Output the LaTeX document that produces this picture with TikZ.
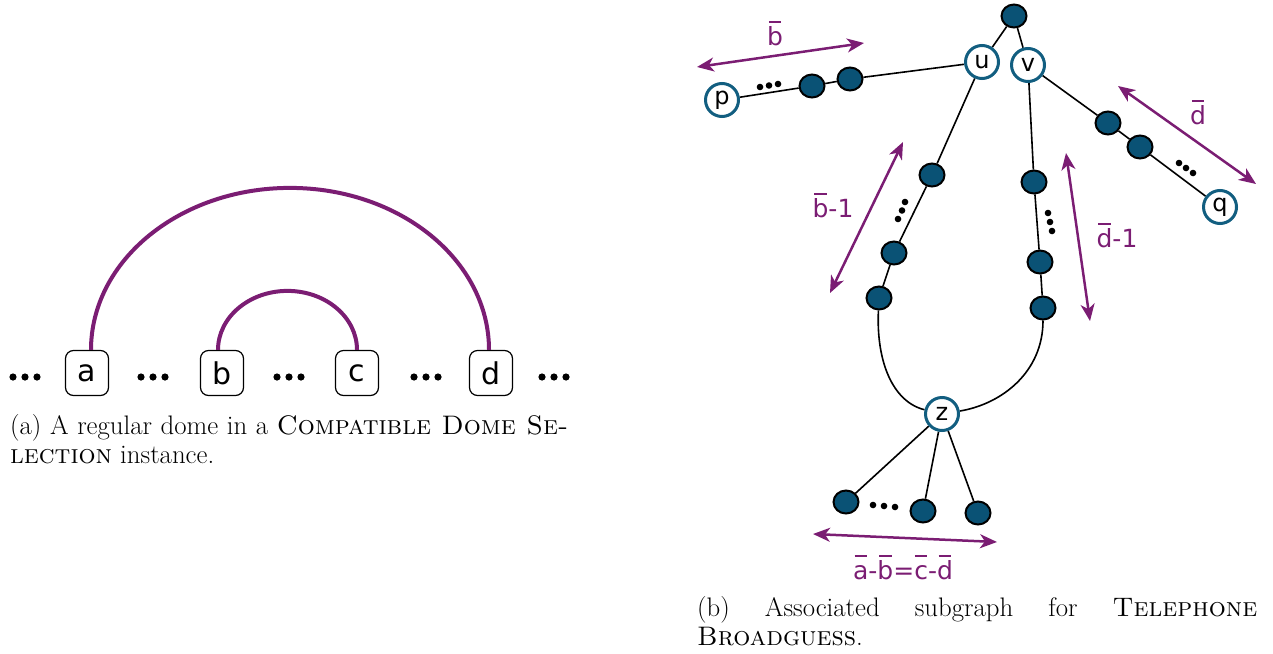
\documentclass[tikz,border=0pt]{standalone}
\usepackage{fontspec}
\newfontfamily\dv{DejaVu Sans}
\usetikzlibrary{arrows.meta,shapes.geometric,calc,backgrounds}
\definecolor{dome}{RGB}{123,29,115}
\definecolor{nfill}{RGB}{10,82,117}
\definecolor{nring}{RGB}{18,94,128}
\newcommand\ob[1]{\leavevmode\setbox0\hbox{#1}\rlap{\hbox to\wd0{\hss\rule[0.9em]{0.5em}{0.08em}\hss}}\box0}
\begin{document}
\begin{tikzpicture}[x=1pt,y=-1pt,
  box/.style={draw, rounded corners=8pt, line width=1.2pt, minimum width=43pt, minimum height=45pt, inner sep=0pt, font=\dv\fontsize{30}{30}\selectfont},
  domeline/.style={draw=dome, line width=4pt},
  full/.style={ellipse, draw, line width=2pt, fill=nfill, minimum width=25pt, minimum height=23pt, inner sep=0pt},
  open/.style={circle, draw=nring, line width=3pt, fill=white, minimum size=33pt, inner sep=0pt, font=\dv\fontsize{24}{24}\selectfont},
  edge/.style={draw, line width=1.6pt},
  span/.style={draw=dome, line width=2.5pt, {Stealth[length=17pt,width=14pt,inset=5pt]}-{Stealth[length=17pt,width=14pt,inset=5pt]}},
  lab/.style={text=dome, font=\dv\fontsize{25}{25}\selectfont, inner sep=0pt},
  captext/.style={anchor=base west, inner sep=0pt, font=\fontsize{26.8}{29.5}\selectfont}
]
\useasboundingbox (0,0) rectangle (1273,653);

% ---------- left: dome ----------
\node[box] (a) at (87,373) {a};
\node[box] (b) at (222,373) {b};
\node[box] (c) at (357,373) {c};
\node[box] (d) at (491,373) {d};
\foreach \x in {13,25,37, 141,153,165, 277,289,301, 414,426,438, 542,554,566}
  \fill (\x,377) circle (3.6);
\draw[domeline] ($(a.north)+(4,0)$) arc[start angle=180, end angle=360, x radius=199, y radius=162];
\draw[domeline] ($(b.north)+(-4,0)$) arc[start angle=180, end angle=360, x radius=69.5, y radius=59];

\node[captext] (capA) at (10,434) {\parbox[t]{558pt}{(a) A regular dome in a \textsc{Compatible Dome Se-}\linebreak\textsc{lection} instance.}};

% ---------- right: graph ----------
\node[full] (top) at (1014,16) {};
\node[open] (u) at (982,62) {u};
\node[open] (v) at (1028,65) {v};
\node[open] (p) at (722,100) {p};
\node[full] (b1) at (812,86) {};
\node[full] (b2) at (850,79) {};
\node[full] (l1) at (932,175) {};
\node[full] (l2) at (894,253) {};
\node[full] (l3) at (879,298) {};
\node[full] (r1) at (1034,182) {};
\node[full] (r2) at (1040,262) {};
\node[full] (r3) at (1043,308) {};
\node[full] (d1) at (1108,123) {};
\node[full] (d2) at (1140,147) {};
\node[open] (q) at (1220,207) {q};
\node[open] (z) at (942,414) {z};
\node[full] (c1) at (846,502) {};
\node[full] (c2) at (923,511) {};
\node[full] (c3) at (978,513) {};

\begin{scope}[on background layer]
\path[edge] (top) -- (u) (top) -- (v)
  (p) -- (b1) (b1) -- (b2) (b2) -- (u)
  (u) -- (l1) (l1) -- (l2) (l2) -- (l3)
  (v) -- (r1) (r1) -- (r2) (r2) -- (r3)
  (v) -- (d1) (d1) -- (d2) (d2) -- (q)
  (z) -- (c1) (z) -- (c2) (z) -- (c3);
\draw[edge] (l3) .. controls (876,362) and (893,402) .. (z);
\draw[edge] (r3) .. controls (1043,372) and (1002,404) .. (z);
\end{scope}

\foreach \p in {(760,87),(769,85.5),(778,84), (905,202),(902,210.5),(898,219), (1048,213),(1050,222),(1052,231), (1179,163),(1186,168),(1193,173), (873,505),(884,506),(895,507)}
  \fill \p circle (3.3);

% spans
\coordinate (sb1) at (697,67);  \coordinate (sb2) at (864,43);
\coordinate (sd1) at (1118,86); \coordinate (sd2) at (1256,184);
\coordinate (sl1) at (903,142); \coordinate (sl2) at (830,293);
\coordinate (sr1) at (1066,153); \coordinate (sr2) at (1090,321);
\coordinate (sz1) at (813,534); \coordinate (sz2) at (997,542);
\draw[span] (sb1) -- (sb2);
\draw[span] (sd1) -- (sd2);
\draw[span] (sl1) -- (sl2);
\draw[span] (sr1) -- (sr2);
\draw[span] (sz1) -- (sz2);
\node[lab] (Lb) at (775,33) {\ob{b}};
\node[lab] (Ld) at (1198,112) {\ob{d}};
\node[lab] (Lb1) at (833,205) {\ob{b}-1};
\node[lab] (Ld1) at (1117,235) {\ob{d}-1};
\node[lab] (Lz) at (903,567) {\ob{a}-\ob{b}=\ob{c}-\ob{d}};

\node[captext] (capB) at (697,616) {\parbox[t]{560pt}{(b) Associated subgraph for \textsc{Telephone}\linebreak\textsc{Broadguess}.}};
\end{tikzpicture}
\end{document}
